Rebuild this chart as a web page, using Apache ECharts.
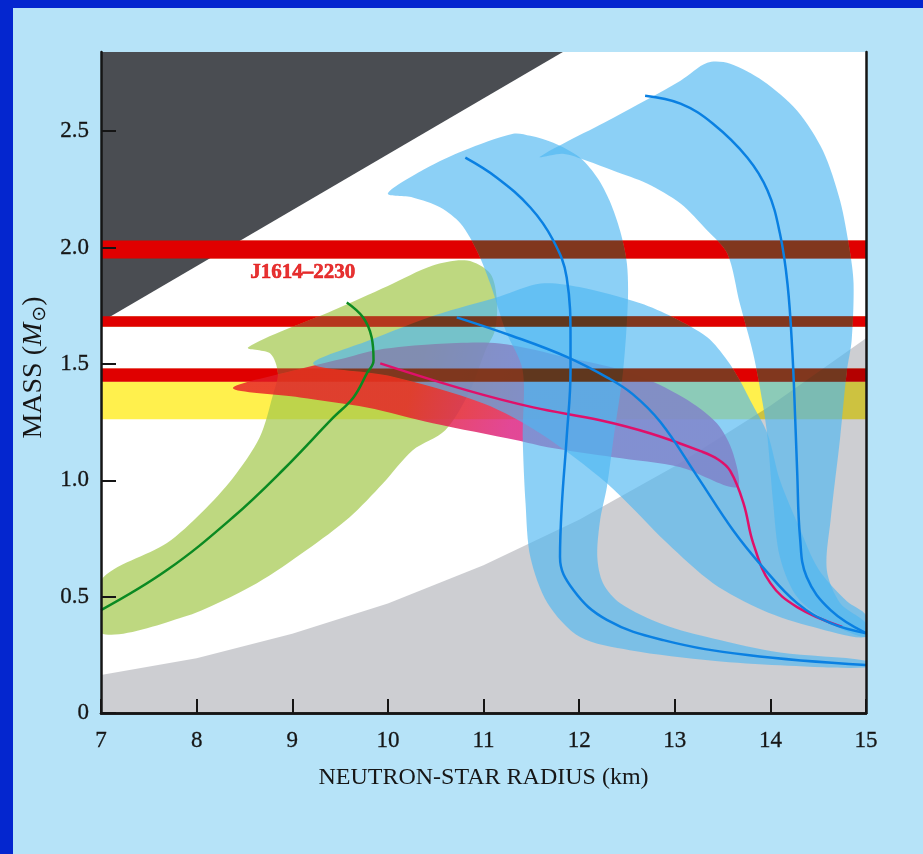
<!DOCTYPE html>
<html>
<head>
<meta charset="utf-8">
<script src="https://cdn.jsdelivr.net/npm/echarts@6/dist/echarts.min.js"></script>
<style>
  html, body { margin: 0; padding: 0; }
  #chart { width: 923px; height: 854px; }
</style>
</head>
<body>
<div id="chart"></div>
<script>
// axis ticks
const radiusTicks = [7, 8, 9, 10, 11, 12, 13, 14, 15];
const massTicks = [0, 0.5, 1.0, 1.5, 2.0, 2.5];

// measured masses (lo, hi) and the yellow band
const massBands = [[1.953, 2.03], [1.659, 1.705], [1.423, 1.48]];
const yellowBand = [[1.262, 1.423]];
const pulsarLabel = 'J1614\u20132230';
const pulsarLabelAt = [8.56, 1.893];

// excluded regions
const causalityEdge = [[7, 1.68], [11.83, 2.84], [7, 2.84]];
const greyTop = [[7, 0.163], [8, 0.235], [9, 0.34], [10, 0.47], [11, 0.635], [12, 0.83], [13, 1.06], [14, 1.32], [15, 1.61], [15, 0], [7, 0]];

// shaded bands (outline points, radius km / mass)
const greenBand = [[7, 0.57], [7.69, 0.73], [8.05, 0.86], [8.38, 1.01], [8.66, 1.185], [8.8, 1.37], [8.85, 1.46], [8.77, 1.545], [8.54, 1.571],
  [9.43, 1.73], [10.0, 1.835], [10.47, 1.923], [10.83, 1.944], [11.07, 1.888], [11.14, 1.773], [11.12, 1.644], [11.02, 1.558], [10.86, 1.386],
  [10.6, 1.215], [10.26, 1.129], [9.95, 0.987], [9.6, 0.841], [9.15, 0.70], [8.63, 0.558], [7.86, 0.412], [7, 0.343]];
const pinkBand = [[8.38, 1.395], [9.0, 1.47], [9.5, 1.52], [9.89, 1.56], [10.5, 1.585], [11.17, 1.588], [11.87, 1.528], [12.56, 1.459], [13.09, 1.356],
  [13.44, 1.245], [13.61, 1.116], [13.65, 0.97], [13.06, 1.056], [12.36, 1.099], [11.67, 1.142], [11.35, 1.172], [10.47, 1.245], [9.78, 1.313], [9.08, 1.356]];
const blueBandA = [[10.0, 2.232], [10.4, 2.34], [10.79, 2.416], [11.31, 2.489], [11.49, 2.48], [11.73, 2.45], [12.01, 2.386], [12.19, 2.30], [12.32, 2.20],
  [12.43, 2.07], [12.5, 1.93], [12.51, 1.77], [12.46, 1.47], [12.36, 1.18], [12.29, 0.97], [12.22, 0.83], [12.19, 0.67], [12.25, 0.558], [12.43, 0.472],
  [12.88, 0.38], [13.4, 0.32], [14.1, 0.26], [15, 0.225], [15, 0.195], [14.1, 0.205], [13.4, 0.225], [12.53, 0.27], [12.01, 0.326], [11.67, 0.472],
  [11.49, 0.67], [11.44, 0.90], [11.41, 1.185], [11.41, 1.472], [11.23, 1.644], [11.07, 1.845], [10.93, 1.987], [10.76, 2.103], [10.55, 2.172], [10.26, 2.215]];
const blueBandB = [[9.22, 1.50], [9.8, 1.6], [10.5, 1.71], [11.17, 1.79], [11.6, 1.845], [12.0, 1.83], [12.64, 1.76], [12.98, 1.70], [13.34, 1.614],
  [13.55, 1.515], [13.68, 1.43], [13.79, 1.343], [13.97, 1.2], [14.1, 1.0], [14.3, 0.8], [14.5, 0.62], [14.8, 0.48], [15, 0.42],
  [15, 0.326], [14.45, 0.369], [13.92, 0.442], [13.4, 0.558], [12.92, 0.73], [12.29, 0.987], [11.6, 1.2], [11, 1.33], [10, 1.45]];
const blueBandC = [[11.59, 2.39], [12.36, 2.558], [13.06, 2.717], [13.34, 2.794], [13.58, 2.79], [13.92, 2.717], [14.28, 2.588], [14.55, 2.416],
  [14.73, 2.20], [14.83, 1.987], [14.87, 1.845], [14.85, 1.6], [14.8, 1.47], [14.73, 1.185], [14.63, 0.83], [14.59, 0.614], [14.73, 0.472], [15, 0.386],
  [15, 0.326], [14.63, 0.386], [14.28, 0.498], [14.1, 0.67], [14.03, 0.90], [13.97, 1.185], [13.92, 1.33], [13.82, 1.545], [13.68, 1.76], [13.55, 1.974],
  [13.34, 2.073], [13.06, 2.189], [12.71, 2.275], [12.36, 2.33], [12.08, 2.373], [11.83, 2.403]];

// mass-radius curves
const greenCurve = [[7, 0.442], [7.69, 0.614], [8.38, 0.841], [8.9, 1.043], [9.43, 1.27], [9.64, 1.356], [9.78, 1.459], [9.85, 1.515], [9.83, 1.614], [9.74, 1.70], [9.57, 1.764]];
const magentaCurve = [[9.92, 1.502], [10.83, 1.386], [11.52, 1.313], [12.22, 1.258], [12.74, 1.202], [13.27, 1.125], [13.45, 1.09], [13.58, 1.04],
  [13.72, 0.90], [13.82, 0.73], [14.0, 0.558], [14.28, 0.455], [14.75, 0.37]];
const blueCurveA = [[10.81, 2.386], [11.14, 2.30], [11.49, 2.172], [11.73, 2.03], [11.87, 1.871], [11.91, 1.6], [11.91, 1.472], [11.87, 1.185],
  [11.82, 0.90], [11.8, 0.67], [11.94, 0.528], [12.29, 0.40], [12.88, 0.313], [13.76, 0.249], [15, 0.206]];
const blueCurveB = [[10.72, 1.70], [11.3, 1.62], [11.87, 1.53], [12.3, 1.44], [12.56, 1.37], [12.85, 1.25], [13.23, 1.02], [13.61, 0.785], [13.92, 0.627],
  [14.28, 0.472], [14.63, 0.386], [15, 0.343]];
const blueCurveC = [[12.69, 2.652], [13.06, 2.618], [13.4, 2.532], [13.76, 2.386], [13.97, 2.245], [14.1, 2.06], [14.18, 1.84], [14.23, 1.55],
  [14.26, 1.26], [14.28, 1.04], [14.31, 0.755], [14.38, 0.584], [14.63, 0.442], [15, 0.343]];

const chart = echarts.init(document.getElementById('chart'));
const serif = 'Liberation Serif';

function area(name, points, fill, z, blend, smooth, opacity) {
  return {
    name, type: 'custom', z, clip: true, blendMode: blend, silent: true,
    data: points,
    renderItem(params, api) {
      if (params.dataIndex > 0) return;
      return {
        type: 'polygon',
        shape: { points: points.map((p) => api.coord(p)), smooth },
        style: { fill, opacity }
      };
    }
  };
}

function strip(name, ranges, fill, z, blend) {
  return {
    name, type: 'custom', z, clip: true, blendMode: blend, silent: true,
    data: ranges,
    renderItem(params, api) {
      const a = api.coord([7, api.value(1)]);
      const b = api.coord([15, api.value(0)]);
      return { type: 'rect', shape: { x: a[0], y: a[1], width: b[0] - a[0], height: b[1] - a[1] }, style: { fill } };
    }
  };
}

function curve(name, points, color) {
  return {
    name, type: 'line', data: points, z: 8, smooth: 0.4, symbol: 'none', silent: true,
    lineStyle: { color, width: 2.5 }
  };
}

const pinkFill = new echarts.graphic.LinearGradient(0, 0, 1, 1, [
  { offset: 0, color: '#e71a27' },
  { offset: 0.35, color: '#e71a27' },
  { offset: 0.55, color: '#db1a7c' },
  { offset: 1, color: '#db1a7c' }
]);

const ink = '#161616';
const axisText = { fontFamily: serif, fontSize: 23, color: ink, textBorderColor: ink, textBorderWidth: 0.3 };
const frame = { show: true, lineStyle: { color: '#151515', width: 2.5 } };

chart.setOption({
  animation: false,
  backgroundColor: '#b6e3f8',
  graphic: [
    { type: 'rect', shape: { x: 0, y: 0, width: 13, height: 854 }, style: { fill: '#0426cf' } },
    { type: 'rect', shape: { x: 0, y: 0, width: 923, height: 8 }, style: { fill: '#0426cf' } }
  ],
  grid: { left: 101, right: 57, top: 52, bottom: 141, show: true, backgroundColor: '#ffffff', borderWidth: 0 },
  xAxis: [
    {
      type: 'value', min: 7, max: 15, interval: 1, z: 10,
      axisLine: frame,
      axisTick: { inside: true, length: 14, lineStyle: { color: '#151515', width: 2 } },
      axisLabel: { ...axisText, margin: 16 },
      splitLine: { show: false },
      name: 'NEUTRON-STAR RADIUS (km)', nameLocation: 'middle', nameGap: 53,
      nameTextStyle: { fontFamily: serif, fontSize: 24, color: ink }
    },
    { type: 'value', position: 'top', min: 7, max: 15, z: 10, axisLine: frame, axisTick: { show: false }, axisLabel: { show: false }, splitLine: { show: false } }
  ],
  yAxis: [
    {
      type: 'value', min: 0, max: 2.84, z: 10,
      axisLine: frame,
      axisTick: { inside: true, length: 15, customValues: massTicks, lineStyle: { color: '#151515', width: 2 } },
      axisLabel: { ...axisText, margin: 12, customValues: massTicks, formatter: (v) => (v === 0 ? '0' : v.toFixed(1)) },
      splitLine: { show: false },
      name: '{a|MASS (}{i|M}{s|\u2299}{t|)}', nameLocation: 'middle', nameGap: 46,
      nameTextStyle: {
        rich: {
          a: { fontFamily: serif, fontSize: 28, color: ink, padding: [0, 0, 0, 30] },
          t: { fontFamily: serif, fontSize: 28, color: ink },
          i: { fontFamily: serif, fontSize: 28, fontStyle: 'italic', color: ink },
          s: { fontFamily: 'DejaVu Sans', fontSize: 19, color: ink, padding: [12, 0, 0, 1] }
        }
      }
    },
    { type: 'value', position: 'right', min: 0, max: 2.84, z: 10, axisLine: frame, axisTick: { show: false }, axisLabel: { show: false }, splitLine: { show: false } }
  ],
  series: [
    area('causality', causalityEdge, '#4a4d52', 1, null, 0, 1),
    strip('yellow', yellowBand, '#fff04d', 2),
    strip('measured', massBands, '#e00000', 3),
    area('excluded', greyTop, '#cdced2', 4, 'multiply', 0, 1),
    area('green', greenBand, '#a2c74a', 5, null, 0.3, 0.7),
    area('pink', pinkBand, pinkFill, 5, null, 0.3, 0.8),
    area('blueA', blueBandA, '#4eb7f1', 5, null, 0.3, 0.65),
    area('blueB', blueBandB, '#4eb7f1', 5, null, 0.3, 0.65),
    area('blueC', blueBandC, '#4eb7f1', 5, null, 0.3, 0.65),
    // the red strips again, darkening what lies over them
    strip('measuredOver', massBands, '#e0371e', 6, 'darken'),
    curve('greenCurve', greenCurve, '#0b8a22'),
    curve('magentaCurve', magentaCurve, '#e0106a'),
    curve('blueA', blueCurveA, '#0a80e2'),
    curve('blueB', blueCurveB, '#0a80e2'),
    curve('blueC', blueCurveC, '#0a80e2'),
    {
      type: 'scatter', data: [pulsarLabelAt], symbolSize: 0, z: 9, silent: true,
      label: {
        show: true, position: 'right', distance: 0, formatter: pulsarLabel,
        fontFamily: serif, fontSize: 21, fontWeight: 'bold', color: '#e00000',
        textBorderColor: '#e00000', textBorderWidth: 0.6
      }
    }
  ]
});
</script>
</body>
</html>
